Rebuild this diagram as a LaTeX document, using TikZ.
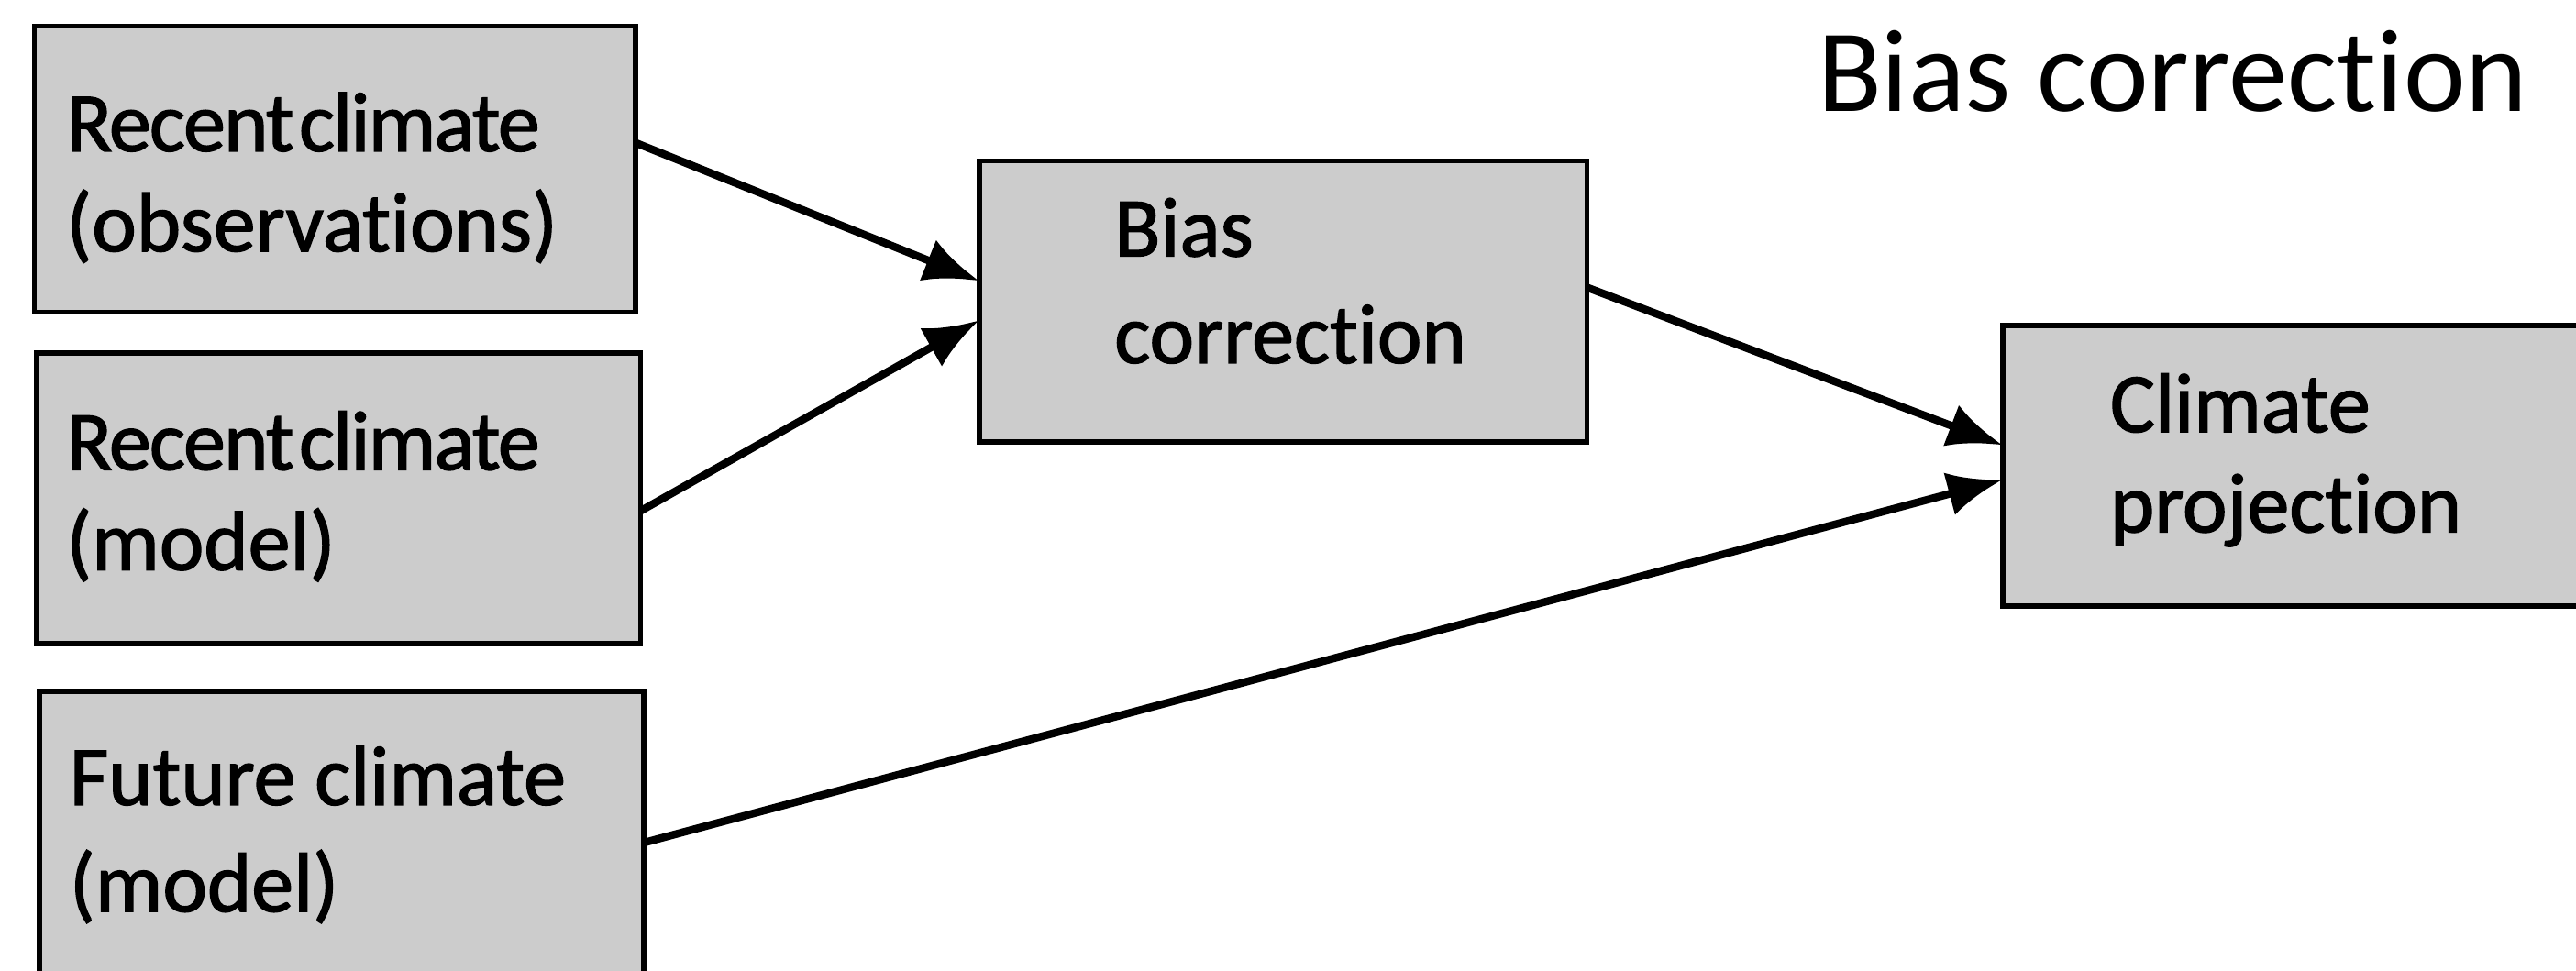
\documentclass[tikz,border=0pt]{standalone}
\usepackage{fontspec}
\setmainfont{Carlito}[Ligatures=NoCommon]
\newfontfamily\boxfont{Carlito}[Ligatures=NoCommon, FakeBold=1.5]
\usetikzlibrary{arrows.meta,calc}
\newcommand\pxu{0.017915cm}
\tikzset{
  box/.style={draw=black, line width=1.6pt, fill=black!20, inner sep=0pt, outer sep=0pt, anchor=north west},
  lbl/.style={anchor=base west, inner sep=0pt, font=\boxfont\fontsize{26.2}{31}\selectfont},
  ttl/.style={anchor=base west, inner sep=0pt, font=\fontsize{36.5}{42}\selectfont},
  arr/.style={line width=2.4pt, -{Latex[length=0.6cm,width=0.48cm]}}
}
\newcommand\tightrc{{\addfontfeature{LetterSpace=-2}Recent\hspace{0.06em}climate}}
\begin{document}
\begin{tikzpicture}[x=0.017915cm, y=-0.017915cm]
\useasboundingbox (0,0) rectangle (1568,591);
\clip (0,0) rectangle (1568,591);
\fill[white] (0,0) rectangle (1568,591);
% boxes
\node[box, minimum width=366*\pxu, minimum height=174*\pxu] (b1) at (21,16) {};
\node[box, minimum width=368*\pxu, minimum height=177*\pxu] (b2) at (22,215) {};
\node[box, minimum width=368*\pxu, minimum height=200*\pxu] (b3) at (24,421) {};
\node[box, minimum width=370*\pxu, minimum height=171*\pxu] (bc) at (596,98) {};
\node[box, minimum width=362*\pxu, minimum height=171*\pxu] (cp) at (1219,198) {};
% texts
\node[lbl] (t1a) at (40,92) {\tightrc};
\node[lbl] (t1b) at (40,153) {(observations)};
\node[lbl] (t2a) at (40,286) {\tightrc};
\node[lbl] (t2b) at (40,347) {(model)};
\node[lbl] (t3a) at (42,490) {Future climate};
\node[lbl] (t3b) at (42,555) {(model)};
\node[lbl] (tba) at (678,156) {Bias};
\node[lbl] (tbb) at (678,221) {correction};
\node[lbl] (tca) at (1284,263) {Climate};
\node[lbl] (tcb) at (1284,324) {projection};
\node[ttl] (title) at (1106,68) {Bias correction};
% arrows
\draw[arr] ($(b1.north east)+(0,71)$) -- ($(bc.north west)+(0,73)$);
\draw[arr] ($(b2.north east)+(0,96)$) -- ($(bc.north west)+(0,97)$);
\draw[arr] ($(bc.north east)+(0,77)$) -- ($(cp.north west)+(0,73)$);
\draw[arr] ($(b3.north east)+(0,92)$) -- ($(cp.north west)+(0,94)$);
\end{tikzpicture}
\end{document}
